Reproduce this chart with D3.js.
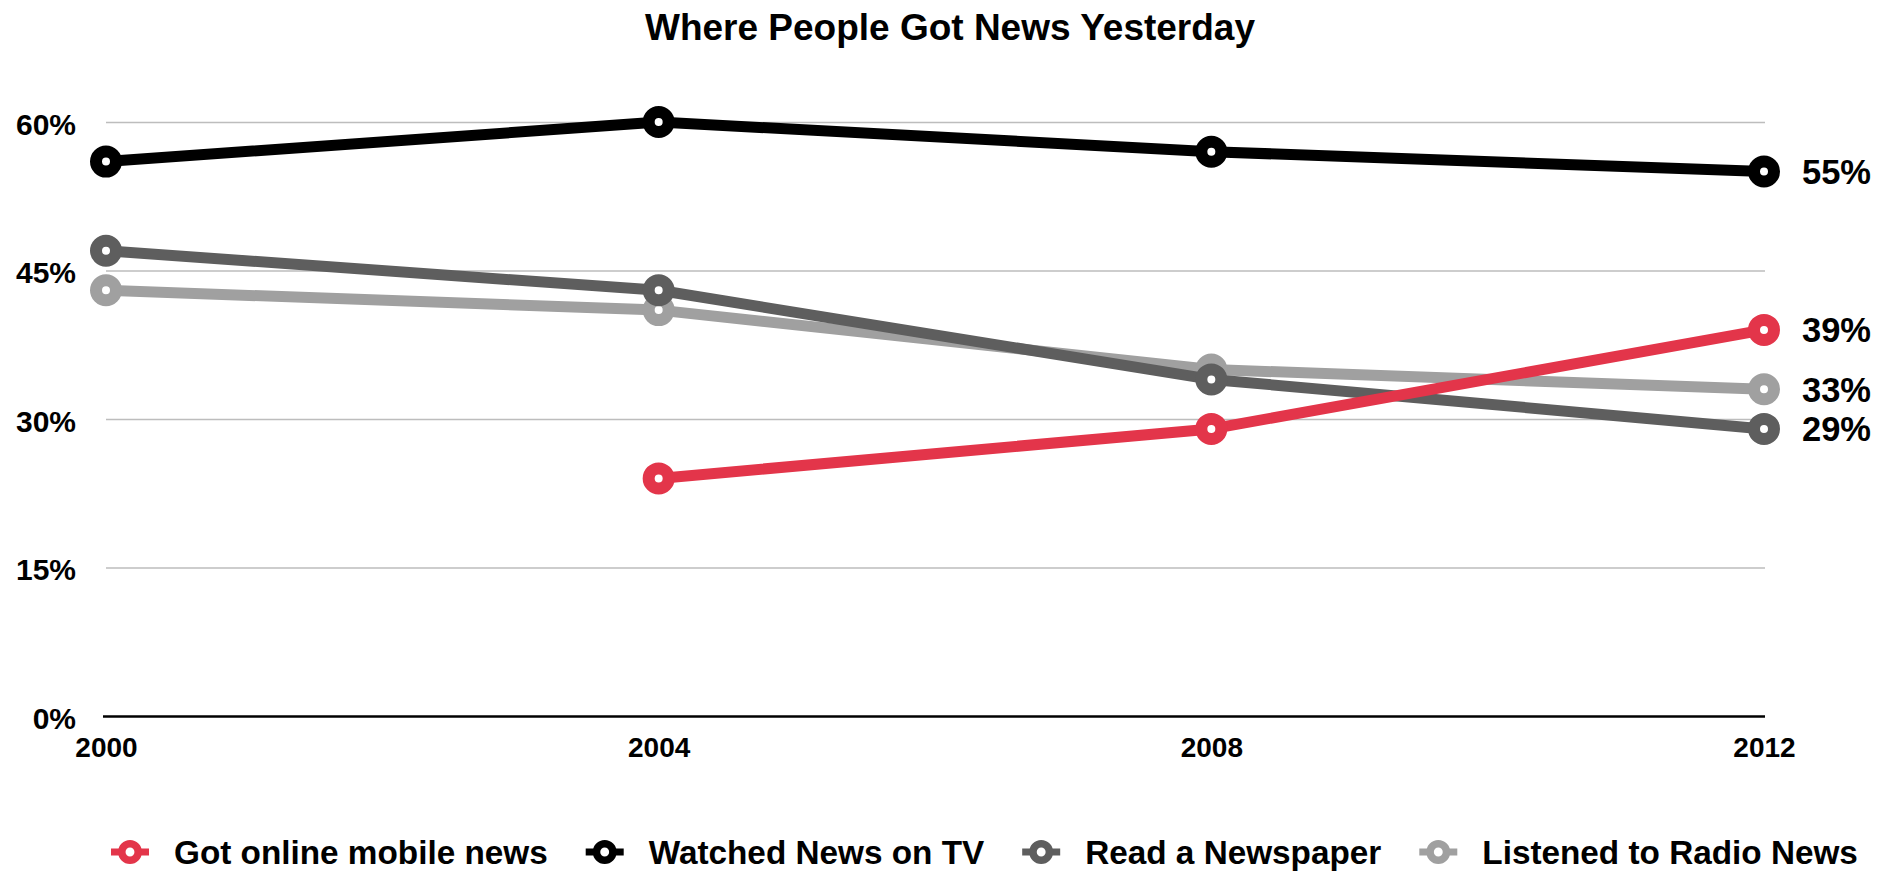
<!DOCTYPE html>
<html>
<head>
<meta charset="utf-8">
<script src="https://cdn.jsdelivr.net/npm/d3@7"></script>
<style>
  html, body { margin: 0; padding: 0; background: #fff; }
  svg { display: block; }
  text { font-family: "Liberation Sans", Arial, Helvetica, sans-serif; font-weight: bold; fill: #000; }
</style>
</head>
<body>
<svg id="chart" width="1893" height="872"></svg>
<script>
// ---- data ----
const years = [2000, 2004, 2008, 2012];
const seriesNames = ["Got online mobile news", "Watched News on TV", "Read a Newspaper", "Listened to Radio News"];
const onlineValues = [null, 24, 29, 39];
const tvValues = [56, 60, 57, 55];
const newspaperValues = [47, 43, 34, 29];
const radioValues = [43, 41, 35, 33];
const yTickValues = [0, 15, 30, 45, 60];
const seriesColors = ["#e3354a", "#000000", "#5e5e5e", "#a0a0a0"];
const titleText = "Where People Got News Yesterday";

const seriesValues = [onlineValues, tvValues, newspaperValues, radioValues];
const series = seriesNames.map((name, i) => ({
  name, color: seriesColors[i],
  points: years.map((yr, j) => ({ year: yr, value: seriesValues[i][j] }))
}));

// ---- layout ----
const svg = d3.select("#chart");
const plotLeft = 106, plotRight = 1764, plotTop = 122, plotBottom = 716;
const x = d3.scaleLinear().domain([2000, 2012]).range([plotLeft, plotRight]);
const y = d3.scaleLinear().domain([0, 60]).range([plotBottom, plotTop]);

// title
svg.append("text").attr("x", 950).attr("y", 40).attr("text-anchor", "middle")
  .style("font-size", "37px").text(titleText);

// y axis with gridlines
const yAxis = d3.axisLeft(y).tickValues(yTickValues).tickFormat(d => d + "%")
  .tickSize(-(plotRight + 1 - plotLeft)).tickPadding(30);
const gy = svg.append("g").attr("transform", `translate(${plotLeft},0)`).call(yAxis);
gy.select(".domain").remove();
gy.selectAll(".tick line").attr("stroke", "#bdbdbd").attr("stroke-width", 1.6);
gy.selectAll(".tick text").style("font-size", "30px").attr("dy", "0.4em");
gy.selectAll(".tick").filter(d => d === 0).select("line")
  .attr("stroke", "#000").attr("stroke-width", 2.5).attr("x1", -3);

// x axis
const xAxis = d3.axisBottom(x).tickValues(years).tickFormat(d3.format("d")).tickSize(0).tickPadding(21);
const gx = svg.append("g").attr("transform", `translate(0,${plotBottom})`).call(xAxis);
gx.select(".domain").remove();
gx.selectAll(".tick text").style("font-size", "28px");

// series (draw bottom-up: radio, newspaper, tv, online)
const line = d3.line().defined(d => d.value != null).x(d => x(d.year)).y(d => y(d.value));
series.slice().reverse().forEach(s => {
  const g = svg.append("g");
  g.append("path").datum(s.points).attr("d", line)
    .attr("fill", "none").attr("stroke", s.color).attr("stroke-width", 11)
    .attr("stroke-linejoin", "round");
  g.selectAll("circle").data(s.points.filter(d => d.value != null)).join("circle")
    .attr("cx", d => x(d.year)).attr("cy", d => y(d.value)).attr("r", 10)
    .attr("fill", "#fff").attr("stroke", s.color).attr("stroke-width", 12);
});

// end labels
series.forEach(s => {
  const last = s.points[s.points.length - 1];
  svg.append("text").attr("x", x(last.year) + 38).attr("y", y(last.value))
    .attr("dy", "0.36em").style("font-size", "34.5px").text(last.value + "%");
});

// legend
const legendY = 852;
let lx = 130;
series.forEach(s => {
  const g = svg.append("g").attr("transform", `translate(${lx},${legendY})`);
  g.append("line").attr("x1", -19).attr("x2", 19).attr("y1", 0).attr("y2", 0)
    .attr("stroke", s.color).attr("stroke-width", 7);
  g.append("circle").attr("r", 8.2).attr("fill", "#fff")
    .attr("stroke", s.color).attr("stroke-width", 7.5);
  const t = g.append("text").attr("x", 44).attr("y", 0).attr("dy", "0.37em")
    .style("font-size", "33.3px").text(s.name);
  const w = t.node().getComputedTextLength();
  lx += 44 + w + 57;
});
</script>
</body>
</html>
